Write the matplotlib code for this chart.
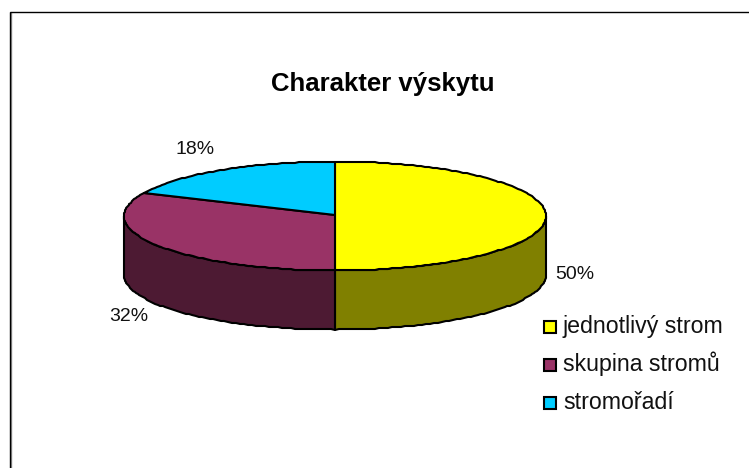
"""
Charakter vyskytu - 3D look pie chart, drawn with polygons on a pixel sized axes.
"""

import numpy as np
import matplotlib
matplotlib.use('Agg')
import matplotlib.pyplot as plt
from matplotlib.patches import Polygon, Rectangle

plt.rcParams['font.family'] = ['Liberation Sans', 'DejaVu Sans']

title = 'Charakter výskytu'
categories = ['jednotlivý strom', 'skupina stromů', 'stromořadí']
shares = [50, 32, 18]
top_colors = ['#ffff00', '#993366', '#00ccff']
side_colors = ['#808000', '#4d1a33', '#006680']

W, H = 749, 468
CX, CY = 335, 216
RX, RY = 211, 54.5
DEPTH = 59


def ellipse_pts(a0, a1, y_off=0):
    # angles are degrees clockwise from the top of the pie
    # rounded to whole pixels, the rim of the original is a bit stepped
    n = max(int(abs(a1 - a0) / 1.2), 2)
    a = np.radians(np.linspace(a0, a1, n))
    return np.round(np.column_stack([CX + RX * np.sin(a), CY + y_off - RY * np.cos(a)]))


fig = plt.figure(figsize=(W / 100, H / 100), dpi=100)
ax = fig.add_axes([0, 0, 1, 1])
ax.set_xlim(0, W)
ax.set_ylim(H, 0)
ax.axis('off')

# chart frame, open on the right and at the bottom
ax.plot([10.5, 10.5], [H, 12], color='#909090', lw=1.0, solid_capstyle='butt')
ax.plot([9.5, 9.5, W], [H, 11.5, 11.5], color='black', lw=1.0, solid_joinstyle='miter')

edges = np.cumsum([0] + shares) * 3.6

# side wall, only the front half of the rim can be seen
for i in range(len(shares)):
    a0, a1 = edges[i], edges[i + 1]
    lo, hi = max(a0, 90), min(a1, 270)
    if lo >= hi:
        continue
    upper = ellipse_pts(lo, hi)
    lower = ellipse_pts(hi, lo, DEPTH)
    ax.add_patch(Polygon(np.vstack([upper, lower]), closed=True, fc=side_colors[i],
                         ec='black', lw=1.5, joinstyle='round', zorder=2))

# top face
for i in range(len(shares)):
    pts = np.vstack([[CX, CY - 1], ellipse_pts(edges[i], edges[i + 1])])
    ax.add_patch(Polygon(pts, closed=True, fc=top_colors[i], ec='black', lw=1.5,
                         joinstyle='round', zorder=3))

ax.text(382.5, 91, title, fontsize=18.5, fontweight='bold', ha='center', va='baseline')

label_pos = [(575, 279), (128.5, 321), (195, 154)]
for share, (x, y) in zip(shares, label_pos):
    ax.text(x, y, f'{share}%', fontsize=14, ha='center', va='baseline', color='#111111')

# legend
legend_y = [326.5, 364.5, 402.5]
for name, color, y in zip(categories, top_colors, legend_y):
    ax.add_patch(Rectangle((544, y - 6), 12, 12, fc=color, ec='black', lw=1.5, zorder=3))
    ax.text(563, y + 6.5, name, fontsize=16.7, ha='left', va='baseline', color='#111111')

plt.savefig('out.png', dpi=100)
